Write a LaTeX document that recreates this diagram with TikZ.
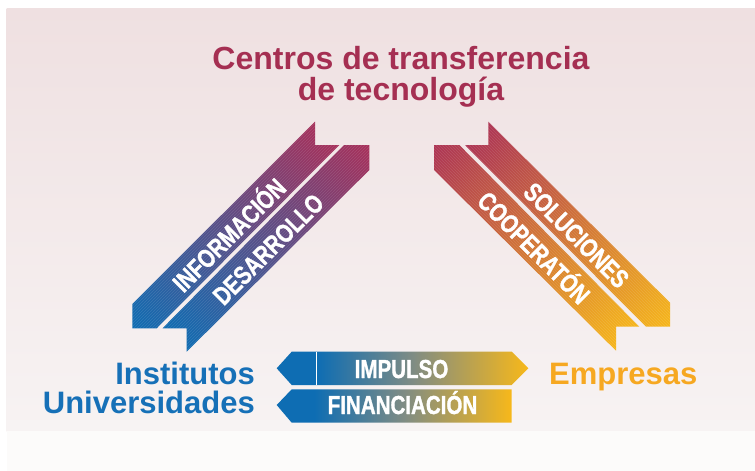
\documentclass[tikz,border=0pt]{standalone}
\usepackage{fontspec}
\setmainfont{Liberation Sans}
\newfontfamily\condfont[FakeStretch=0.79, FakeBold=1.2]{Liberation Sans}
\usetikzlibrary{patterns}
\definecolor{titlecol}{HTML}{A52F52}
\definecolor{txtblue}{HTML}{1670B7}
\definecolor{txtorange}{HTML}{F6A821}
\definecolor{bandblue}{HTML}{0E6DB3}
\definecolor{bandred}{HTML}{A8305A}
\definecolor{bandred2}{HTML}{AC3355}
\definecolor{bandyel}{HTML}{F7B81A}
\definecolor{bandmid}{HTML}{7F8C84}
\definecolor{pinktop}{HTML}{EFE0E1}
\definecolor{pinkbot}{HTML}{F7F3F3}
\definecolor{offwhite}{HTML}{FCFBFA}
\pgfdeclarehorizontalshading{arrowshade}{100bp}{color(0bp)=(bandblue); color(25bp)=(bandblue); color(33bp)=(bandblue); color(52bp)=(bandmid); color(75bp)=(bandyel); color(100bp)=(bandyel)}
\tikzset{
  bandtext/.style={text=white, font=\condfont\bfseries\fontsize{26}{26}\selectfont, inner sep=0pt, text height=19pt, text depth=0pt, anchor=center},
  titletext/.style={text=titlecol, font=\bfseries\fontsize{32}{32}\selectfont, inner sep=0pt, anchor=base},
  sidetext/.style={font=\bfseries\fontsize{31}{31}\selectfont, inner sep=0pt},
  stripesne/.style={pattern=north east lines, pattern color=white, opacity=0.12},
  stripesnw/.style={pattern=north west lines, pattern color=white, opacity=0.12},
}
% #1 polygon, #2 centre x, #3 centre y, #4 angle, #5 start colour, #6 end colour, #7 stripe style
\newcommand\myband[7]{%
  \begin{scope}
    \clip #1;
    \begin{scope}[transform canvas={shift={(#2,#3)}, rotate=#4}]
      \shade[left color=#5, right color=#6] (-140,-30) rectangle (140,30);
    \end{scope}
  \end{scope}
  \path[#7] #1;
}
\begin{document}
\begin{tikzpicture}[x=1pt,y=-1pt]
\useasboundingbox (0,0) rectangle (755,471);
% background
\fill[white] (0,0) rectangle (755,471);
\shade[top color=pinktop, bottom color=pinkbot] (6.7,8.3) rectangle (755,431);
\fill[offwhite] (6.7,431) rectangle (755,471);

% title
\node[titletext] (t1) at (401,69) {Centros de transferencia};
\node[titletext] (t2) at (401,100) {de tecnología};

% left bands
\myband{(132.3,304) -- (132.3,328.3) -- (156.7,328.3) -- (339.3,145) -- (315,145) -- (315,121.7) -- cycle}{230.4}{230.4}{45}{bandblue}{bandred}{stripesne}
\myband{(162.5,328.3) -- (186.7,328.3) -- (186.7,351.7) -- (369.3,170) -- (369.3,145) -- (344,145) -- cycle}{272}{242.5}{45}{bandblue}{bandred}{stripesne}

% right bands
\myband{(465,145) -- (488.3,145) -- (488.3,121.7) -- (670,302.7) -- (670,326.7) -- (646,326.7) -- cycle}{573}{230}{-45}{bandred2}{bandyel}{stripesnw}
\myband{(434,145) -- (459.3,145) -- (639.3,326.7) -- (616,326.7) -- (616,350.7) -- (434,170) -- cycle}{531}{242}{-45}{bandred2}{bandyel}{stripesnw}

% band texts
\node[bandtext, rotate=45] (info) at (229,235) {INFORMACIÓN};
\node[bandtext, rotate=45] (desa) at (268,249) {DESARROLLO};
\node[bandtext, rotate=-45] (solu) at (576.7,235) {SOLUCIONES};
\node[bandtext, rotate=-45] (coop) at (534,247.5) {COOPERATÓN};

% bottom arrows
\shade[shading=arrowshade] (276.7,368.3) -- (291.7,351.7) -- (511.7,351.7) -- (528.3,368.3) -- (511.7,385) -- (291.7,385) -- cycle;
\draw[white, line width=0.8pt] (316.7,351.7) -- (316.7,385);
\shade[shading=arrowshade] (276.7,405) -- (291.7,389.3) -- (511.7,389.3) -- (511.7,422.7) -- (291.7,422.7) -- cycle;
\node[bandtext] (impu) at (401.5,368.5) {IMPULSO};
\node[bandtext] (fina) at (402.5,404.5) {FINANCIACIÓN};

% side labels
\node[sidetext, text=txtblue, anchor=base east] (inst) at (255,384.3) {Institutos};
\node[sidetext, text=txtblue, anchor=base east] (univ) at (255,413.5) {Universidades};
\node[sidetext, text=txtorange, anchor=base west] (empr) at (549,384.3) {Empresas};
\end{tikzpicture}
\end{document}
